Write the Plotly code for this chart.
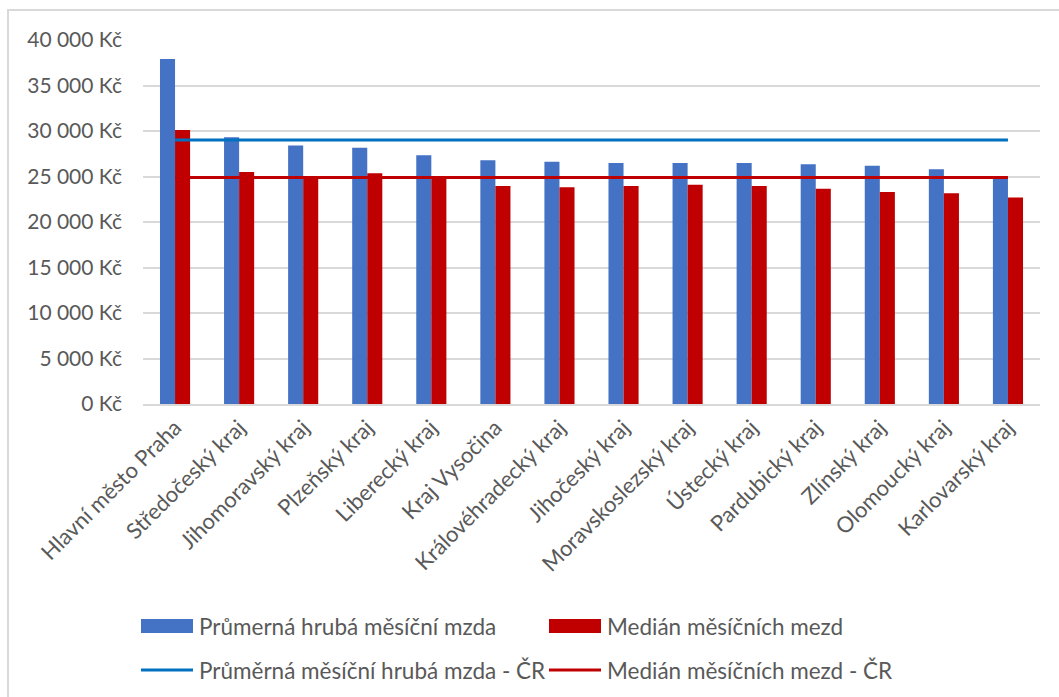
import plotly.graph_objects as go

# Regions of the Czech Republic
regions = [
    "Hlavní město Praha", "Středočeský kraj", "Jihomoravský kraj", "Plzeňský kraj",
    "Liberecký kraj", "Kraj Vysočina", "Královéhradecký kraj", "Jihočeský kraj",
    "Moravskoslezský kraj", "Ústecký kraj", "Pardubický kraj", "Zlínský kraj",
    "Olomoucký kraj", "Karlovarský kraj",
]

# Average gross monthly wage per region (Kč)
avg_wage = [37900, 29300, 28420, 28170, 27330, 26780, 26630, 26480,
            26480, 26480, 26340, 26190, 25790, 24850]

# Median monthly wage per region (Kč)
median_wage = [30100, 25500, 24880, 25350, 25020, 23960, 23810, 23960,
               24100, 23960, 23660, 23300, 23150, 22700]

# Country-wide reference values (Kč)
avg_wage_cr = 29000
median_wage_cr = 24900

# Y axis ticks
y_ticks = [0, 5000, 10000, 15000, 20000, 25000, 30000, 35000, 40000]
y_tick_text = [f"{v:,} Kč".replace(",", " ") for v in y_ticks]

names = [
    "Průmerná hrubá měsíční mzda",
    "Medián měsíčních mezd",
    "Průměrná měsíční hrubá mzda - ČR",
    "Medián měsíčních mezd - ČR",
]

BLUE_BAR = "#4472C4"
RED = "#C00000"
BLUE_LINE = "#0070C0"
GRID = "#D9D9D9"
TEXT = "#595959"
FONT = "Lato, 'Open Sans', sans-serif"

W, H = 1059, 697
ML, MR, MT, MB = 143, 19, 40, 293
PW, PH = W - ML - MR, H - MT - MB


def px(x):
    return (x - ML) / PW


def py(y):
    return (H - MB - y) / PH


fig = go.Figure()
fig.add_trace(go.Bar(x=regions, y=avg_wage, name=names[0], marker_color=BLUE_BAR,
                     marker_line_width=0))
fig.add_trace(go.Bar(x=regions, y=median_wage, name=names[1], marker_color=RED,
                     marker_line_width=0))
fig.add_trace(go.Scatter(x=regions, y=[avg_wage_cr] * len(regions), name=names[2],
                         mode="lines", line=dict(color=BLUE_LINE, width=3)))
fig.add_trace(go.Scatter(x=regions, y=[median_wage_cr] * len(regions), name=names[3],
                         mode="lines", line=dict(color=RED, width=3)))

# Legend drawn as a two-column grid below the chart
shapes = [
    # chart frame
    dict(type="rect", xref="paper", yref="paper",
         x0=px(8), x1=px(1080), y0=py(10), y1=py(720),
         line=dict(color=GRID, width=2), fillcolor="rgba(0,0,0,0)", layer="below"),
]
annotations = []
legend_items = [
    (names[0], "bar", BLUE_BAR, 141, 626),
    (names[1], "bar", RED, 549, 626),
    (names[2], "line", BLUE_LINE, 141, 670),
    (names[3], "line", RED, 549, 670),
]
for label, kind, color, x0, yc in legend_items:
    if kind == "bar":
        shapes.append(dict(type="rect", xref="paper", yref="paper",
                           x0=px(x0), x1=px(x0 + 52), y0=py(yc - 7), y1=py(yc + 7),
                           fillcolor=color, line=dict(width=0)))
    else:
        shapes.append(dict(type="line", xref="paper", yref="paper",
                           x0=px(x0), x1=px(x0 + 52), y0=py(yc), y1=py(yc),
                           line=dict(color=color, width=3)))
    annotations.append(dict(text=label, xref="paper", yref="paper",
                            x=px(x0 + 56), y=py(yc), xanchor="left", yanchor="middle",
                            showarrow=False, font=dict(family=FONT, size=22.5, color=TEXT)))

fig.update_layout(
    width=W, height=H,
    margin=dict(l=ML, r=MR, t=MT, b=MB),
    paper_bgcolor="white", plot_bgcolor="white",
    barmode="group", bargap=0.53, bargroupgap=0,
    showlegend=False,
    font=dict(family=FONT, size=21, color=TEXT),
    shapes=shapes,
    annotations=annotations,
)
fig.update_xaxes(
    tickangle=-45, showgrid=False, showline=True, linecolor=GRID, linewidth=2,
    ticks="", tickfont=dict(family=FONT, size=22, color=TEXT),
)
fig.update_yaxes(
    range=[0, 40000], tickvals=y_ticks, ticktext=y_tick_text,
    showgrid=True, gridcolor=GRID, gridwidth=2, zeroline=False, showline=False,
    ticks="", ticklabelstandoff=20, tickfont=dict(family=FONT, size=21, color=TEXT),
)

fig.write_html("out.html")
